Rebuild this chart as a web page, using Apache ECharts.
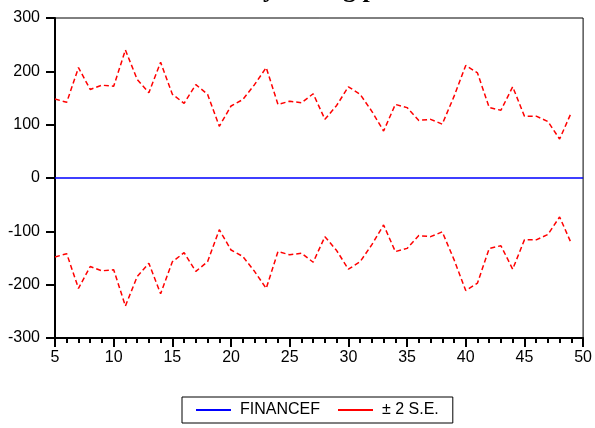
<!DOCTYPE html>
<html>
<head>
<meta charset="utf-8">
<script src="https://cdn.jsdelivr.net/npm/echarts@6/dist/echarts.min.js"></script>
<style>html,body{margin:0;padding:0;background:#fff}#c{width:595px;height:428px}</style>
</head>
<body>
<div id="c"></div>
<script>
const titleText = 'Stability testing plot';
const obs = [5,6,7,8,9,10,11,12,13,14,15,16,17,18,19,20,21,22,23,24,25,26,27,28,29,30,31,32,33,34,35,36,37,38,39,40,41,42,43,44,45,46,47,48,49];
const upperSE = [148,142,207,166,174,172,240,185,160,217,157,140,175,157,97,135,147,175,207,138,144,141,158,110,136,171,157,125,88,138,132,108,110,101,153,211,197,132,127,171,116,116,106,73,123];
const lowerSE = [-148,-142,-207,-166,-174,-172,-240,-185,-160,-217,-157,-140,-175,-157,-97,-135,-147,-175,-207,-138,-144,-141,-158,-110,-136,-171,-157,-125,-88,-138,-132,-108,-110,-101,-153,-211,-197,-132,-127,-171,-116,-116,-106,-73,-123];
const financeObs = [5,6,7,8,9,10,11,12,13,14,15,16,17,18,19,20,21,22,23,24,25,26,27,28,29,30,31,32,33,34,35,36,37,38,39,40,41,42,43,44,45,46,47,48,49,50];
const financeVals = [0,0,0,0,0,0,0,0,0,0,0,0,0,0,0,0,0,0,0,0,0,0,0,0,0,0,0,0,0,0,0,0,0,0,0,0,0,0,0,0,0,0,0,0,0,0];
const yTicks = [-300,-200,-100,0,100,200,300];

const pair = (xs, ys) => xs.map((x, i) => [x, ys[i]]);
const chart = echarts.init(document.getElementById('c'), null, {renderer: 'canvas'});
const font = 'Liberation Sans, Arial, sans-serif';
chart.setOption({
  animation: false,
  backgroundColor: '#fff',
  title: {
    text: titleText, left: 182, top: -23, padding: 0,
    textStyle: {fontFamily: 'Liberation Serif, Times New Roman, serif', fontWeight: 'bold', fontSize: 26, color: '#000'}
  },
  grid: {left: 55, right: 7, top: 18, bottom: 90, show: true, borderColor: '#000', borderWidth: 1, backgroundColor: '#fff'},
  xAxis: {
    type: 'value', min: 5, max: 50, interval: 5,
    axisLine: {show: true, onZero: false, lineStyle: {color: '#000', width: 2}},
    axisTick: {show: true, inside: false, length: 9, lineStyle: {color: '#000', width: 2}},
    minorTick: {show: true, splitNumber: 5, length: 5, lineStyle: {color: '#000', width: 2}},
    axisLabel: {color: '#000', fontFamily: font, fontSize: 16, margin: 12},
    splitLine: {show: false}
  },
  yAxis: {
    type: 'value', min: yTicks[0], max: yTicks[yTicks.length-1], interval: 100,
    axisLine: {show: true, lineStyle: {color: '#000', width: 2}},
    axisTick: {show: true, inside: false, length: 9, lineStyle: {color: '#000', width: 2}},
    axisLabel: {color: '#000', fontFamily: font, fontSize: 16, margin: 15},
    splitLine: {show: false}
  },
  legend: {
    left: 182, top: 397, orient: 'horizontal',
    padding: [5, 14, 5, 14],
    borderColor: '#000', borderWidth: 1,
    itemWidth: 35, itemHeight: 2, itemGap: 18,
    textStyle: {color: '#000', fontFamily: font, fontSize: 16, padding: [0, 0, 0, 4]},
    data: [
      {name: 'FINANCEF', icon: 'rect', itemStyle: {color: '#0000ff'}},
      {name: '± 2 S.E.', icon: 'rect', itemStyle: {color: '#ff0000'}}
    ]
  },
  series: [
    {name: 'FINANCEF', type: 'line', data: pair(financeObs, financeVals), showSymbol: false, symbol: 'none',
     lineStyle: {color: '#0000ff', width: 1.5}, itemStyle: {color: '#0000ff'}, z: 3},
    {name: '± 2 S.E.', type: 'line', data: pair(obs, upperSE), showSymbol: false, symbol: 'none',
     lineStyle: {color: '#ff0000', width: 1.5, type: [5, 3]}, itemStyle: {color: '#ff0000'}},
    {name: '± 2 S.E.', type: 'line', data: pair(obs, lowerSE), showSymbol: false, symbol: 'none',
     lineStyle: {color: '#ff0000', width: 1.5, type: [5, 3]}, itemStyle: {color: '#ff0000'}}
  ]
});
</script>
</body>
</html>
